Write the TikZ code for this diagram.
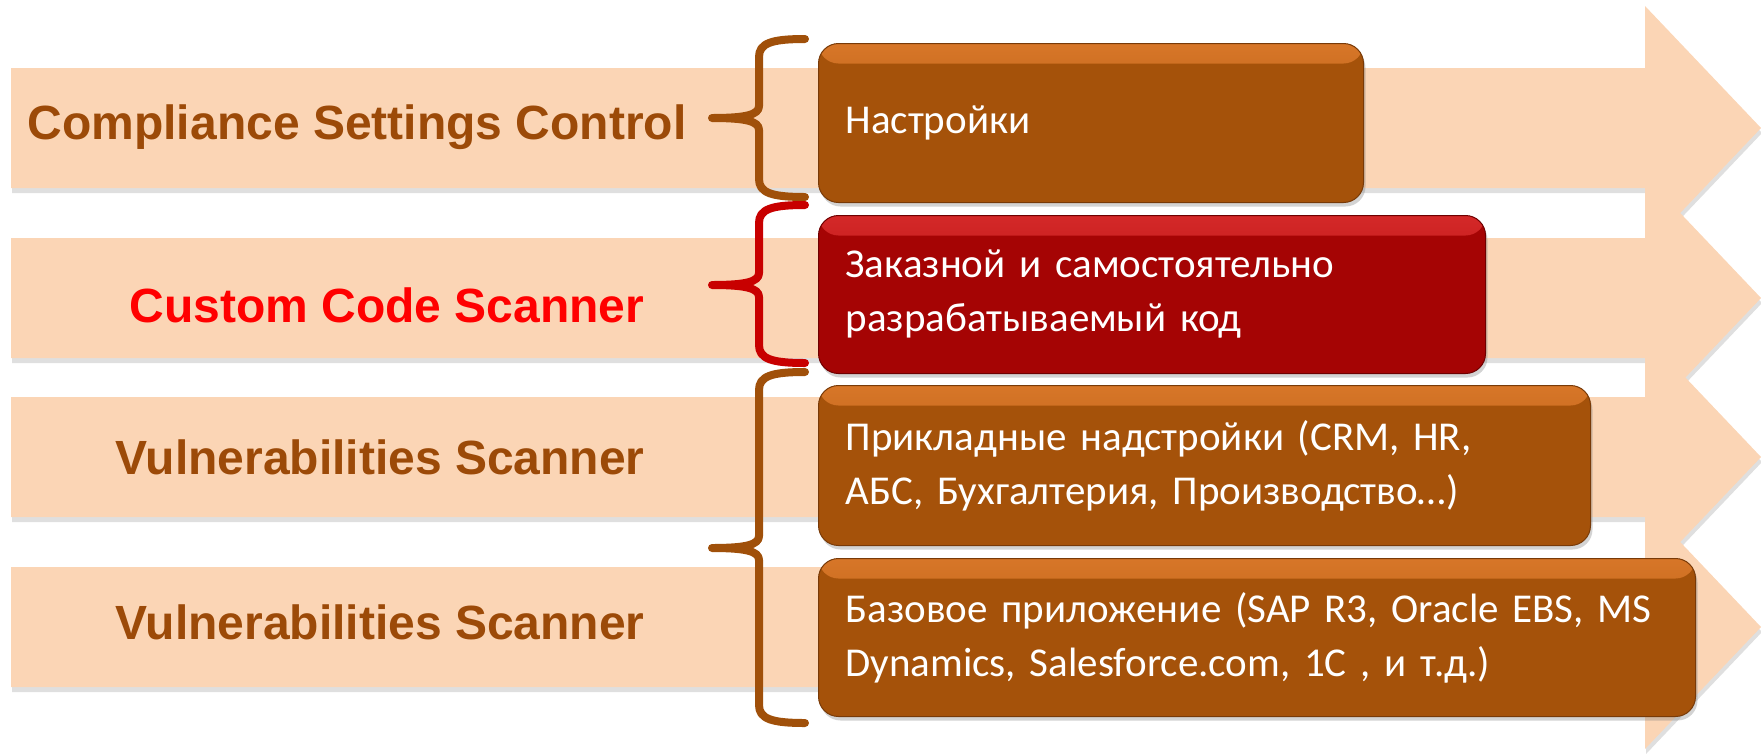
\documentclass[tikz,border=0pt]{standalone}
\usepackage{fontspec}
\newfontfamily\labelfont{Liberation Sans}
\newfontfamily\boxfont{Carlito}[WordSpace=0.6]
\usetikzlibrary{positioning,shadows}

\definecolor{bandfill}{RGB}{251,213,181}
\definecolor{labelbrown}{RGB}{156,74,8}
\definecolor{labelred}{RGB}{255,0,0}
\definecolor{boxbrown}{RGB}{165,82,10}
\definecolor{boxbrownlight}{RGB}{215,118,40}
\definecolor{boxbrownedge}{RGB}{120,58,8}
\definecolor{boxred}{RGB}{165,4,4}
\definecolor{boxredlight}{RGB}{212,40,40}
\definecolor{boxrededge}{RGB}{110,0,0}
\definecolor{bracebrown}{RGB}{160,80,10}
\definecolor{bracered}{RGB}{200,0,0}

\begin{document}
\begin{tikzpicture}
[%%%%%%%%%%%%%%%%%%%%%%%%%%%%%%
x=1pt,y=-1pt,
band/.style={fill=bandfill, drop shadow={shadow xshift=1pt,shadow yshift=-5pt,opacity=.25}},
scanner/.style={font=\labelfont\bfseries\fontsize{48}{56}\selectfont, text=labelbrown, inner sep=0pt},
box/.style={rectangle, rounded corners=20pt, line width=1pt, text=white, align=left,
  font=\boxfont\fontsize{41}{54}\selectfont, inner xsep=27pt, inner ysep=0pt, anchor=north west,
  drop shadow={shadow xshift=2pt,shadow yshift=-4pt,opacity=.35}},
brownbox/.style={box, fill=boxbrown, draw=boxbrownedge,
  path picture={\shade[top color=boxbrownlight, bottom color=boxbrown]
  (path picture bounding box.north west) rectangle ([yshift=-20pt]path picture bounding box.north east);}},
redbox/.style={box, fill=boxred, draw=boxrededge,
  path picture={\shade[top color=boxredlight, bottom color=boxred]
  (path picture bounding box.north west) rectangle ([yshift=-20pt]path picture bounding box.north east);}},
curly/.style={line width=8pt, line cap=round, line join=round},
]%%%%%%%%%%%%%%%%%%%%%%%%%%%%%%

\useasboundingbox (0,0) rectangle (1761,753);

% arrows
\foreach \y in {128,298,457,627}
\fill[band] (11,\y-60) -- (1645,\y-60) -- (1645,\y-122) -- (1761,\y)
  -- (1645,\y+122) -- (1645,\y+60) -- (11,\y+60) -- cycle;

% left labels
\node[scanner] (csc) at (357,127) {Compliance Settings Control};
\node[scanner, text=labelred] (ccs) at (387,305) {Custom Code Scanner};
\node[scanner] (vs1) at (380,457) {Vulnerabilities Scanner};
\node[scanner] (vs2) at (380,622) {Vulnerabilities Scanner};

% braces
\foreach \t/\m/\b/\c in {39/118/197/bracebrown, 205/285/363/bracered, 372/548/723/bracebrown}
\draw[curly, draw=\c] (805,\t) .. controls (772,\t) and (759,\t+4) .. (759,\t+18)
  -- (759,\m-12) .. controls (759,\m-3) and (745,\m) .. (712,\m)
  .. controls (745,\m) and (759,\m+3) .. (759,\m+12)
  -- (759,\b-18) .. controls (759,\b-4) and (772,\b) .. (805,\b);

% boxes
\node[brownbox, text width=491pt, minimum height=159pt] (settings) at (818,43) {Настройки};
\node[redbox, text width=613pt, minimum height=158pt, below=12pt of settings.south west, anchor=north west] (custom)
  {Заказной и самостоятельно\\разрабатываемый код};
\node[brownbox, text width=718pt, minimum height=160pt, below=11pt of custom.south west, anchor=north west] (applied)
  {Прикладные надстройки (CRM, HR,\\АБС, Бухгалтерия, Производство\dots)};
\node[brownbox, text width=823pt, minimum height=158pt, below=12pt of applied.south west, anchor=north west] (base)
  {Базовое приложение (SAP R3, Oracle EBS, MS\\Dynamics, Salesforce.com, 1С , и т.д.)};
\end{tikzpicture}
\end{document}
